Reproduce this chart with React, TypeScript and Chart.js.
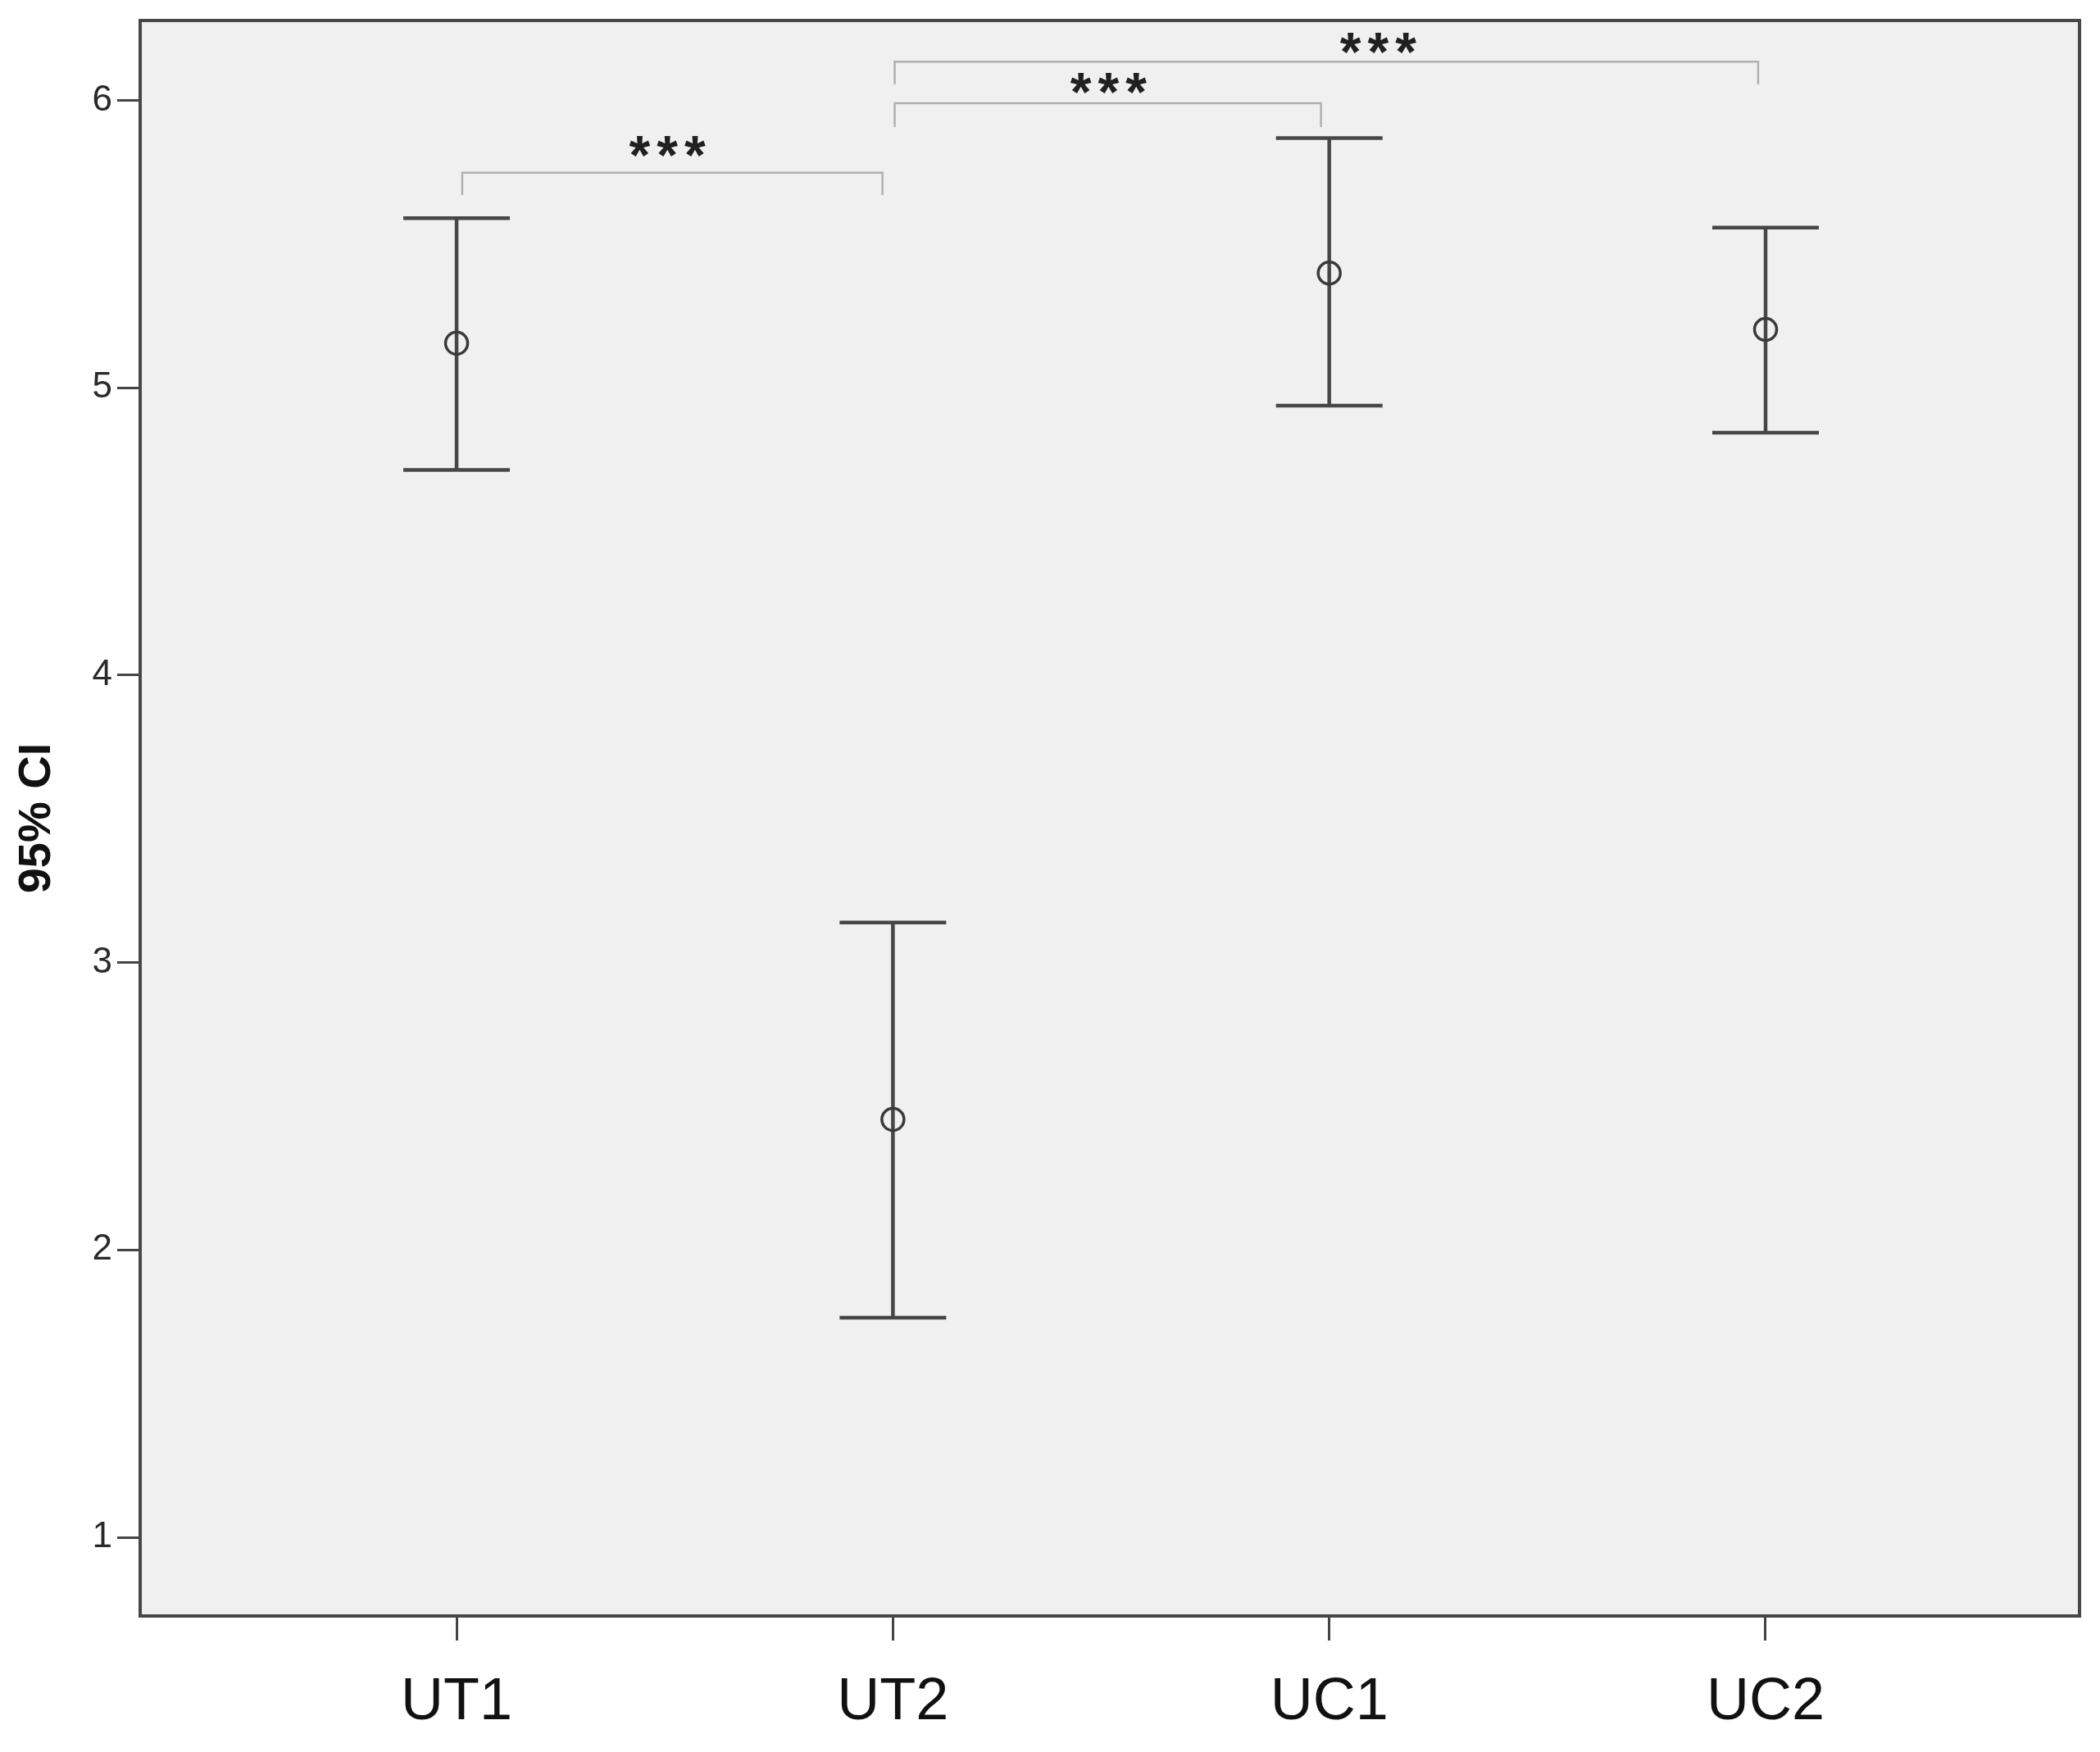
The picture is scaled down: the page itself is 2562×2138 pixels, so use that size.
import React, { useEffect, useRef } from "react";
import { Chart, registerables } from "chart.js";

Chart.register(...registerables);

// ---- data ----
const categories = ["UT1", "UT2", "UC1", "UC2"];
const means = [5.155, 2.454, 5.399, 5.203];
const upper = [5.59, 3.139, 5.869, 5.557];
const lower = [4.714, 1.764, 4.938, 4.844];
const yTicks = [1, 2, 3, 4, 5, 6];
const yAxisTitle = "95% CI";

// significance brackets
const bracketStart = [0.013, 1.004, 1.004];
const bracketEnd = [0.976, 1.981, 2.983];
const bracketTop = [5.748, 5.99, 6.135];
const bracketFoot = [5.671, 5.907, 6.056];
const bracketLabel = ["***", "***", "***"];
const bracketLabelX = [0.483, 1.494, 2.112];
const bracketLabelY = [5.84, 6.06, 6.2];

const FONT = "'Liberation Sans', Arial, sans-serif";
const W = 2562;
const H = 2138;

const customPlugin = {
  id: "spssLook",
  beforeDraw(chart: any) {
    const { ctx, chartArea: a, width, height } = chart;
    ctx.save();
    ctx.fillStyle = "#ffffff";
    ctx.fillRect(0, 0, width, height);
    ctx.fillStyle = "#f0f0f0";
    ctx.fillRect(a.left, a.top, a.right - a.left, a.bottom - a.top);
    ctx.restore();
  },
  beforeDatasetsDraw(chart: any) {
    const { ctx } = chart;
    const x = chart.scales.x;
    const y = chart.scales.y;
    const capHalf = 65;
    ctx.save();
    ctx.strokeStyle = "#464646";
    ctx.lineWidth = 4.5;
    ctx.lineCap = "butt";
    categories.forEach((_, i) => {
      const px = x.getPixelForValue(i);
      const pu = y.getPixelForValue(upper[i]);
      const pl = y.getPixelForValue(lower[i]);
      ctx.beginPath();
      ctx.moveTo(px, pu);
      ctx.lineTo(px, pl);
      ctx.moveTo(px - capHalf, pu);
      ctx.lineTo(px + capHalf, pu);
      ctx.moveTo(px - capHalf, pl);
      ctx.lineTo(px + capHalf, pl);
      ctx.stroke();
    });
    ctx.restore();
  },
  afterDraw(chart: any) {
    const { ctx, chartArea: a } = chart;
    const x = chart.scales.x;
    const y = chart.scales.y;
    ctx.save();
    // brackets
    ctx.strokeStyle = "#b0b0b0";
    ctx.lineWidth = 2.5;
    bracketStart.forEach((s, i) => {
      const x0 = x.getPixelForValue(s);
      const x1 = x.getPixelForValue(bracketEnd[i]);
      const yt = y.getPixelForValue(bracketTop[i]);
      const yf = y.getPixelForValue(bracketFoot[i]);
      ctx.beginPath();
      ctx.moveTo(x0, yf);
      ctx.lineTo(x0, yt);
      ctx.lineTo(x1, yt);
      ctx.lineTo(x1, yf);
      ctx.stroke();
    });
    // labels
    const spacing = 8;
    ctx.fillStyle = "#202020";
    ctx.font = `bold 66px ${FONT}`;
    (ctx as any).letterSpacing = `${spacing}px`;
    ctx.textAlign = "center";
    ctx.textBaseline = "alphabetic";
    bracketLabel.forEach((t, i) => {
      const m = ctx.measureText(t);
      const cx = x.getPixelForValue(bracketLabelX[i]) + spacing / 2;
      const cy = y.getPixelForValue(bracketLabelY[i]);
      const off = (m.actualBoundingBoxAscent - m.actualBoundingBoxDescent) / 2;
      ctx.fillText(t, cx, cy + off);
    });
    (ctx as any).letterSpacing = "0px";
    // frame
    ctx.strokeStyle = "#474747";
    ctx.lineWidth = 4;
    ctx.strokeRect(a.left, a.top, a.right - a.left, a.bottom - a.top);
    ctx.restore();
  },
};

export default function App() {
  const ref = useRef<HTMLCanvasElement | null>(null);

  useEffect(() => {
    if (!ref.current) return;
    const chart = new Chart(ref.current, {
      type: "scatter",
      data: {
        datasets: [
          {
            data: categories.map((_, i) => ({ x: i, y: means[i] })),
            pointStyle: "circle",
            pointRadius: 13.5,
            pointHoverRadius: 13.5,
            pointBorderWidth: 3.5,
            borderColor: "#3a3a3a",
            backgroundColor: "rgba(0,0,0,0)",
            showLine: false,
          },
        ],
      },
      options: {
        responsive: false,
        animation: false,
        devicePixelRatio: 1,
        layout: { padding: { left: 0, right: 25, top: 25, bottom: 0 } },
        plugins: {
          legend: { display: false },
          tooltip: { enabled: false },
        },
        scales: {
          x: {
            type: "linear",
            min: -0.7252,
            max: 3.7195,
            afterBuildTicks: (scale: any) => {
              scale.ticks = categories.map((_, i) => ({ value: i }));
            },
            afterFit: (scale: any) => {
              scale.height = 166;
              scale.paddingLeft = 0;
              scale.paddingRight = 0;
            },
            ticks: {
              autoSkip: false,
              maxRotation: 0,
              minRotation: 0,
              padding: 33,
              color: "#111111",
              font: { family: FONT, size: 72 },
              callback: (v: any) => categories[Math.round(Number(v))] ?? "",
            },
            grid: {
              drawOnChartArea: false,
              drawTicks: true,
              tickLength: 30,
              tickColor: "#444444",
              tickWidth: 3,
            },
            border: { display: false },
          },
          y: {
            type: "linear",
            min: 0.7263,
            max: 6.278,
            afterBuildTicks: (scale: any) => {
              scale.ticks = yTicks.map((v) => ({ value: v }));
            },
            afterFit: (scale: any) => {
              scale.width = 171;
              scale.paddingTop = 0;
              scale.paddingBottom = 0;
            },
            ticks: {
              padding: 6,
              color: "#2a2a2a",
              font: { family: FONT, size: 44 },
              callback: (v: any) => String(v),
            },
            grid: {
              drawOnChartArea: false,
              drawTicks: true,
              tickLength: 28,
              tickColor: "#444444",
              tickWidth: 3,
            },
            border: { display: false },
            title: {
              display: true,
              text: yAxisTitle,
              color: "#111111",
              font: { family: FONT, size: 56, weight: "bold" },
              padding: { top: 12, bottom: 0 },
            },
          },
        },
      },
      plugins: [customPlugin],
    });
    return () => chart.destroy();
  }, []);

  return (
    <div style={{ position: "absolute", left: 0, top: 0, width: W, height: H }}>
      <canvas ref={ref} width={W} height={H} style={{ width: W, height: H, display: "block" }} />
    </div>
  );
}
